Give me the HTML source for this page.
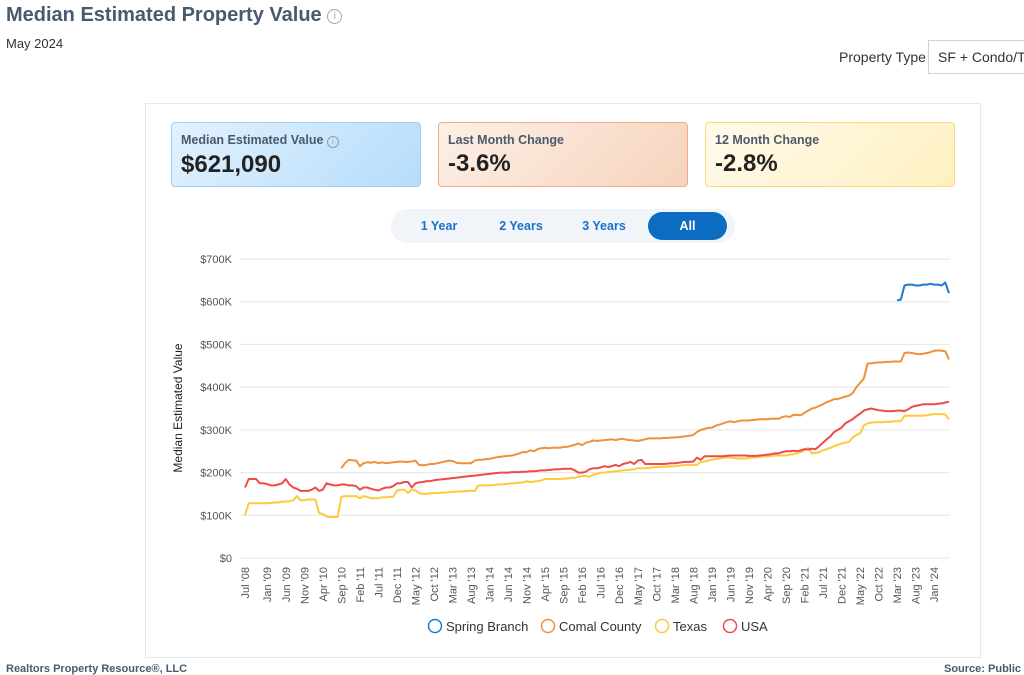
<!DOCTYPE html>
<html><head><meta charset="utf-8"><style>
*{box-sizing:border-box;margin:0;padding:0}
body{width:1024px;height:674px;overflow:hidden;background:#fff;font-family:"Liberation Sans",sans-serif;position:relative}
.abs{position:absolute}
.kpi{position:absolute;top:122px;height:65px;border-radius:4px;padding:10px 9px}
.kpi .l{font-size:12.5px;font-weight:bold;color:#4a5a6e}
.kpi .v{font-size:24px;font-weight:bold;color:#222;margin-top:3px}
.btn{position:absolute;top:212px;height:28px;line-height:28px;text-align:center;font-size:12.5px;font-weight:bold;color:#1a73c9}
</style></head><body>
<div class="abs" style="left:6px;top:4px;font-size:20px;font-weight:bold;color:#4a5a6e">Median Estimated Property Value <span style="display:inline-block;width:15px;height:15px;border:1.3px solid #9aa;border-radius:50%;font-size:10px;color:#9aa;text-align:center;line-height:13px;font-weight:normal;vertical-align:2px">i</span></div>
<div class="abs" style="left:6px;top:36px;font-size:13px;color:#333">May 2024</div>
<div class="abs" style="left:839px;top:49px;font-size:14px;color:#333">Property Type</div>
<div class="abs" style="left:928px;top:40px;width:110px;height:34px;border:1px solid #c9d3de;font-size:14px;color:#333;padding:8px 9px;white-space:nowrap;overflow:hidden">SF + Condo/TH</div>
<div class="abs" style="left:145px;top:103px;width:836px;height:555px;border:1px solid #e3e9f0"></div>
<div class="kpi" style="left:171px;width:250px;background:linear-gradient(135deg,#e3f2fd,#b5dcfb);border:1px solid #9fd0f7"><div class="l">Median Estimated Value <span style="display:inline-block;width:12px;height:12px;border:1px solid #99a;border-radius:50%;font-size:8px;text-align:center;line-height:10px;color:#99a;font-weight:normal">i</span></div><div class="v">$621,090</div></div>
<div class="kpi" style="left:438px;width:250px;background:linear-gradient(135deg,#fdf0e6,#f6d3bd);border:1px solid #f2a985"><div class="l">Last Month Change</div><div class="v">-3.6%</div></div>
<div class="kpi" style="left:705px;width:250px;background:linear-gradient(135deg,#fffaeb,#fff0c2);border:1px solid #fbd97a"><div class="l">12 Month Change</div><div class="v">-2.8%</div></div>
<div class="abs" style="left:391px;top:209px;width:344px;height:34px;border-radius:17px;background:#f1f4f8"></div>
<div class="btn" style="left:400px;width:78px">1 Year</div>
<div class="btn" style="left:482px;width:78px">2 Years</div>
<div class="btn" style="left:565px;width:78px">3 Years</div>
<div class="btn" style="left:648px;width:79px;background:#0b6cc2;color:#fff;border-radius:14px">All</div>
<svg id="chart" class="abs" style="left:0;top:0" width="1024" height="674"></svg>
<div class="abs" style="left:6px;top:663px;font-size:11px;font-weight:bold;color:#4a5a6e">Realtors Property Resource®, LLC</div>
<div class="abs" style="left:944px;top:663px;font-size:11px;font-weight:bold;color:#4a5a6e;white-space:nowrap">Source: Public Records</div>
<script>
const yTicks=[0,100,200,300,400,500,600,700];
const xLabels=["Jul '08","Jan '09","Jun '09","Nov '09","Apr '10","Sep '10","Feb '11","Jul '11","Dec '11","May '12","Oct '12","Mar '13","Aug '13","Jan '14","Jun '14","Nov '14","Apr '15","Sep '15","Feb '16","Jul '16","Dec '16","May '17","Oct '17","Mar '18","Aug '18","Jan '19","Jun '19","Nov '19","Apr '20","Sep '20","Feb '21","Jul '21","Dec '21","May '22","Oct '22","Mar '23","Aug '23","Jan '24"];
const xLabelIdx=[0,6,11,16,21,26,31,36,41,46,51,56,61,66,71,76,81,86,91,96,101,106,111,116,121,126,131,136,141,146,151,156,161,166,171,176,181,186];
const seriesNames=["Spring Branch","Comal County","Texas","USA"];
const seriesColors=["#1a7bd0","#f0913a","#ffc93c","#ee4a4a"];
const usa=[165,185,185,185,175,175,173,170,170,172,175,185,
172,165,162,157,157,157,160,165,157,160,175,172,
170,170,172,172,170,170,168,160,165,165,162,160,
158,162,165,165,168,175,175,178,178,165,175,177,
178,180,180,182,183,184,185,186,187,188,189,190,
191,192,193,194,195,196,197,198,199,200,200,200,
201,201,201,202,202,203,203,204,205,205,206,207,
208,208,209,209,209,205,200,200,202,208,210,210,
212,215,213,215,218,215,220,222,225,220,228,230,
220,220,220,220,220,220,221,222,222,223,224,225,
225,226,235,230,238,238,238,238,238,238,239,240,
240,240,240,240,239,239,239,240,241,242,243,245,
245,248,250,250,251,250,252,255,254,256,255,262,
270,278,285,295,300,305,315,320,325,332,338,345,
348,350,348,346,345,344,344,344,345,345,344,348,
354,356,358,360,360,360,360,361,362,364,366];
const texas=[100,128,128,128,128,128,128,129,130,130,132,132,
133,135,145,135,135,137,137,137,105,103,97,96,
96,96,143,145,145,145,145,140,145,143,140,140,
140,142,142,143,143,158,160,160,152,160,158,152,
150,150,152,152,152,153,153,154,155,155,156,156,
157,157,157,170,170,170,170,171,172,172,173,174,
175,175,176,177,180,178,179,180,182,185,185,185,
185,185,186,186,188,188,190,192,192,190,195,197,
200,200,201,202,203,204,205,206,207,208,210,210,
210,211,212,213,213,214,214,215,215,216,217,218,
218,218,218,225,226,228,230,232,233,235,235,235,
234,233,233,233,234,235,236,237,238,238,239,240,
240,240,240,242,243,245,248,252,258,245,246,248,
252,255,258,262,265,268,270,272,282,288,292,310,
315,317,318,318,318,319,319,320,320,321,333,333,
333,333,333,333,334,336,337,337,337,336,325];
const comal=[null,null,null,null,null,null,null,null,null,null,null,null,
null,null,null,null,null,null,null,null,null,null,null,null,
null,null,210,222,230,229,228,215,222,224,223,225,
222,224,222,223,224,225,226,225,225,226,228,218,
217,218,220,220,222,224,226,228,227,223,222,222,
222,222,228,230,230,231,232,234,236,237,238,239,
240,242,245,248,248,252,250,255,257,258,257,258,
258,258,260,260,263,265,268,264,270,272,275,274,
275,276,277,278,276,278,279,277,276,275,274,276,
278,280,280,280,280,281,281,282,282,283,284,285,
286,288,295,300,302,305,305,310,312,315,318,320,
318,320,322,322,322,323,324,325,325,325,326,326,
326,330,332,330,335,335,334,340,345,350,352,356,
360,365,368,372,372,375,378,380,386,400,410,420,
455,456,457,458,458,459,459,460,460,460,480,481,
480,478,477,478,480,482,485,486,485,484,465];
const springStart=176;
const springVals=[603,605,638,640,640,638,638,640,640,642,640,640,638,645,620];
const spring=usa.map((v,i)=>i>=springStart?springVals[i-springStart]:null);
const NS="http://www.w3.org/2000/svg";
const svg=document.getElementById('chart');
const X0=245,X1=949,Y0=558,Y1=259,N=usa.length;
const xs=i=>X0+(X1-X0)*i/(N-1);
const ys=v=>Y0-(Y0-Y1)*v/700;
function mk(tag,attrs){const e=document.createElementNS(NS,tag);for(const k in attrs)e.setAttribute(k,attrs[k]);svg.appendChild(e);return e;}
yTicks.forEach(t=>{
 const g=mk('line',{x1:240,x2:950,y1:ys(t),y2:ys(t),stroke:'#e6e6e6','stroke-width':1});
 
 
 const tx=mk('text',{x:232,y:ys(t)+4,'text-anchor':'end','font-size':11,fill:'#555','font-family':'Liberation Sans, sans-serif'});
 tx.textContent=t===0?'$0':'$'+t+'K';
 
 
});
const yt=mk('text',{transform:'translate(182,408) rotate(-90)','text-anchor':'middle','font-size':12,fill:'#222','font-family':'Liberation Sans, sans-serif'});
yt.textContent='Median Estimated Value';


xLabels.forEach((l,k)=>{
 const x=xs(xLabelIdx[k]);
 const t=mk('text',{transform:`translate(${x+4},567) rotate(-90)`,'text-anchor':'end','font-size':11,fill:'#555','font-family':'Liberation Sans, sans-serif'});
 t.textContent=l;
 
 
});
function drawLine(arr,color,name){
 let d='',pen=false;
 arr.forEach((v,i)=>{if(v==null){pen=false;return;}d+=(pen?'L':'M')+xs(i).toFixed(1)+' '+ys(v).toFixed(1);pen=true;});
 const p=mk('path',{d:d,fill:'none',stroke:color,'stroke-width':2,'stroke-linejoin':'round'});
 
 
}
drawLine(texas,seriesColors[2],'texas-line');
drawLine(comal,seriesColors[1],'comal-county-line');
drawLine(usa,seriesColors[3],'usa-line');
drawLine(spring,seriesColors[0],'spring-branch-line');
const legX=[428,541,655,723];
seriesNames.forEach((n,k)=>{
 const c=mk('circle',{cx:legX[k]+7,cy:626,r:6.5,fill:'none',stroke:seriesColors[k],'stroke-width':1.5});
 
 
 const t=mk('text',{x:legX[k]+18,y:631,'font-size':13,fill:'#333','font-family':'Liberation Sans, sans-serif'});
 t.textContent=n;
 
 
});
</script>
</body></html>
